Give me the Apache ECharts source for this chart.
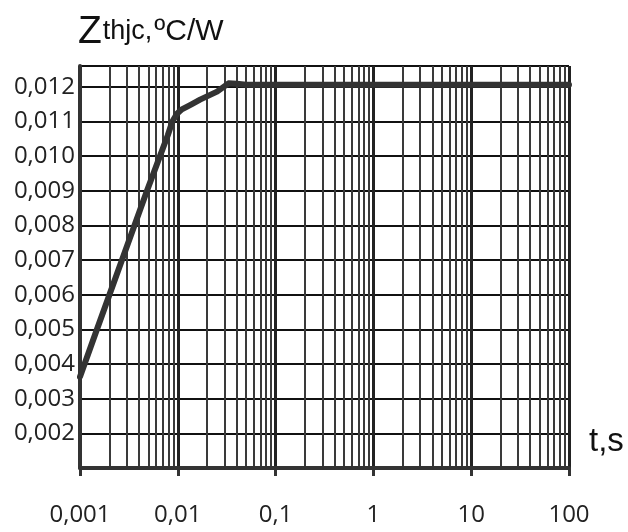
<!DOCTYPE html>
<html>
<head>
<meta charset="utf-8">
<script src="https://cdn.jsdelivr.net/npm/echarts@6/dist/echarts.min.js"></script>
<style>
  html, body { margin: 0; padding: 0; background: #fff; }
  #chart { width: 628px; height: 532px; }
</style>
</head>
<body>
<div id="chart"></div>
<script>
// courbe Zthjc(t)
var times = [0.001, 0.00149, 0.00484, 0.00657, 0.0079, 0.0088, 0.0098, 0.011, 0.0135, 0.0169, 0.0252, 0.033, 0.04, 0.05, 0.1, 1, 10, 100];
var zth = [0.00363, 0.005, 0.009, 0.010, 0.0106, 0.0110, 0.01122, 0.01135, 0.01148, 0.01163, 0.01186, 0.0121, 0.01209, 0.01206, 0.01206, 0.01206, 0.01206, 0.01206];

// graduations
var decades = [0.001, 0.01, 0.1, 1, 10, 100];
var decadeLabels = ['0,001', '0,01', '0,1', '1', '10', '100'];
var minorTicks = [];
decades.slice(0, -1).forEach(function (d) {
    [2, 3, 4, 5, 6, 7, 8, 9].forEach(function (k) { minorTicks.push(+(d * k).toPrecision(3)); });
});

var dom = document.getElementById('chart');
var myChart = echarts.init(dom, null, { renderer: 'canvas' });

var labelFont = { fontFamily: 'Open Sans', fontSize: 24, color: '#222' };

var option = {
    animation: false,
    backgroundColor: '#fff',
    title: [
        {
            left: 73,
            top: 8,
            text: '{z|Z}{a|thjc,}{b|ºC/W}',
            textStyle: {
                fontWeight: 'normal',
                rich: {
                    z: { fontFamily: 'Liberation Sans', fontWeight: 'normal', fontSize: 39, color: '#111' },
                    a: { fontFamily: 'Liberation Sans', fontWeight: 'normal', fontSize: 27, color: '#111', padding: [0, 0, 2, 1] },
                    b: { fontFamily: 'Liberation Sans', fontWeight: 'normal', fontSize: 30, color: '#111', padding: [0, 0, 2, 2] }
                }
            }
        },
        {
            left: 584,
            top: 420,
            text: 't,s',
            textStyle: { fontFamily: 'Liberation Sans', fontSize: 33, fontWeight: 'normal', color: '#111' }
        }
    ],
    grid: { left: 80, right: 59, top: 66, bottom: 64, containLabel: false },
    xAxis: [
        {
            type: 'log',
            logBase: 10,
            min: 0.001,
            max: 100,
            axisLine: { onZero: false, lineStyle: { color: '#333', width: 4 } },
            axisTick: { show: true, length: 8, lineStyle: { color: '#333', width: 3 } },
            axisLabel: Object.assign({
                margin: 35,
                formatter: function (v) {
                    for (var i = 0; i < decades.length; i++) {
                        if (Math.abs(Math.log10(v) - Math.log10(decades[i])) < 1e-6) return decadeLabels[i];
                    }
                    return '';
                }
            }, labelFont),
            splitLine: { show: true, lineStyle: { color: '#222', width: 3 } },
            minorTick: { show: false },
            minorSplitLine: { show: false }
        },
        {
            type: 'log',
            logBase: 10,
            min: 0.001,
            max: 100,
            position: 'bottom',
            axisLine: { show: false },
            axisTick: { show: false, customValues: minorTicks },
            axisLabel: { show: false, customValues: minorTicks },
            splitLine: { show: true, lineStyle: { color: '#3a3a3a', width: 2 } }
        }
    ],
    yAxis: {
        type: 'value',
        min: 0.001,
        max: 0.0126,
        interval: 0.001,
        axisLine: { show: true, lineStyle: { color: '#333', width: 4 } },
        axisTick: { show: false },
        axisLabel: Object.assign({
            margin: 5,
            showMinLabel: false,
            showMaxLabel: false,
            formatter: function (v) { return v.toFixed(3).replace('.', ','); }
        }, labelFont),
        splitLine: { show: true, lineStyle: { color: '#111', width: 2 } }
    },
    series: [
        {
            type: 'line',
            xAxisIndex: 0,
            data: times.map(function (t, i) { return [t, zth[i]]; }),
            smooth: false,
            symbol: 'none',
            lineStyle: { color: '#333', width: 6, join: 'round', cap: 'round' },
            z: 10
        }
    ]
};

myChart.setOption(option);
window.addEventListener('resize', myChart.resize);
</script>
</body>
</html>
